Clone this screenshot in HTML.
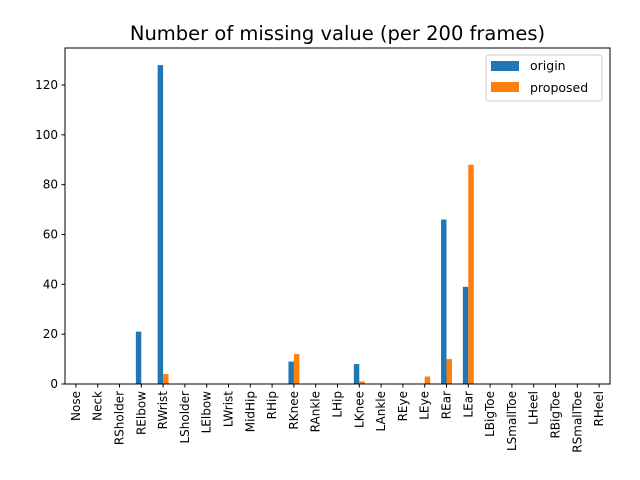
<!DOCTYPE html>
<html><head><meta charset="utf-8"><style>body{margin:0;background:#fff}svg{display:block;font-family:"DejaVu Sans","Liberation Sans",sans-serif}</style></head>
<body>
<svg id="c" width="640" height="480"></svg>
<script>
const categories=["Nose","Neck","RSholder","RElbow","RWrist","LSholder","LElbow","LWrist","MidHip","RHip","RKnee","RAnkle","LHip","LKnee","LAnkle","REye","LEye","REar","LEar","LBigToe","LSmallToe","LHeel","RBigToe","RSmallToe","RHeel"];
const originValues=[0,0,0,21,128,0,0,0,0,0,9,0,0,8,0,0,0,66,39,0,0,0,0,0,0];
const proposedValues=[0,0,0,0,4,0,0,0,0,0,12,0,0,1,0,0,3,10,88,0,0,0,0,0,0];
const yTicks=[0,20,40,60,80,100,120];
const ns="http://www.w3.org/2000/svg",svg=document.getElementById('c');
const L=65,R=610,T=48,B=384,yMax=134.85;
const n=categories.length;
const xs=v=>L+(v+0.5)*(R-L)/n;
const ys=v=>B-v*(B-T)/yMax;
function el(t,a,p){const e=document.createElementNS(ns,t);for(const k in a)e.setAttribute(k,a[k]);(p||svg).appendChild(e);return e;}
const unit=(R-L)/n;
originValues.forEach((v,i)=>{const r=el('rect',{x:xs(i)-0.25*unit,y:ys(v),width:0.25*unit,height:B-ys(v),fill:'#1f77b4'});

});
proposedValues.forEach((v,i)=>{const r=el('rect',{x:xs(i),y:ys(v),width:0.25*unit,height:B-ys(v),fill:'#ff7f0e'});

});
const ax=el('rect',{x:L,y:T,width:R-L,height:B-T,fill:'none',stroke:'#000','stroke-width':1});


yTicks.forEach(v=>{el('line',{x1:L-3.5,x2:L,y1:ys(v),y2:ys(v),stroke:'#000'});
const t=el('text',{x:L-7,y:ys(v)+4,'text-anchor':'end','font-size':12});t.textContent=v;

});
for(let i=0;i<n;i++){const x=xs(i);el('line',{x1:x,x2:x,y1:B,y2:B+3.5,stroke:'#000'});
const t=el('text',{transform:`translate(${x+4},${B+7}) rotate(-90)`,'text-anchor':'end','font-size':12});t.textContent=categories[i];

}
const ti=el('text',{x:(L+R)/2,y:40,'text-anchor':'middle','font-size':19.5});ti.textContent='Number of missing value (per 200 frames)';


const lg=el('g',{});


el('rect',{x:486,y:55,width:116,height:46,rx:3,fill:'#fff',stroke:'#ccc'},lg);
el('rect',{x:491,y:61,width:28,height:10,fill:'#1f77b4'},lg);
el('rect',{x:491,y:82,width:28,height:10,fill:'#ff7f0e'},lg);
const l1=el('text',{x:530,y:70,'font-size':12.5},lg);l1.textContent='origin';


const l2=el('text',{x:530,y:92,'font-size':12.5},lg);l2.textContent='proposed';


</script>
</body></html>
